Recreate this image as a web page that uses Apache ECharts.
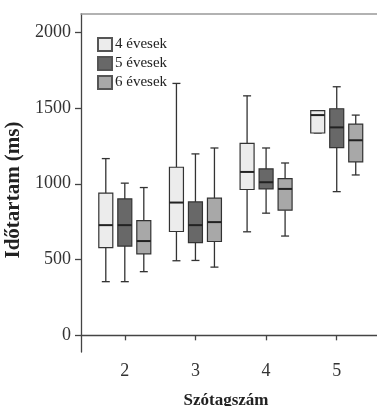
<!DOCTYPE html>
<html>
<head>
<meta charset="utf-8">
<script src="https://cdn.jsdelivr.net/npm/echarts@6/dist/echarts.min.js"></script>
<style>
  html, body { margin: 0; padding: 0; background: #fff; }
  #chart { width: 377px; height: 406px; }
</style>
</head>
<body>
<div id="chart"></div>
<script>
// syllable counts on the x axis
const categories = [2, 3, 4, 5];
const groupNames = ['4 évesek', '5 évesek', '6 évesek'];
const yTicks = [0, 500, 1000, 1500, 2000];

// [min, Q1, median, Q3, max] per syllable count
const age4 = [
  [354, 578, 727, 938, 1166],
  [492, 685, 876, 1109, 1662],
  [683, 962, 1078, 1267, 1580],
  [1335, 1335, 1453, 1482, 1482]
];
const age5 = [
  [354, 589, 727, 900, 1004],
  [494, 612, 727, 880, 1197],
  [806, 966, 1010, 1098, 1236],
  [948, 1238, 1372, 1495, 1640]
];
const age6 = [
  [420, 538, 622, 757, 975],
  [450, 619, 747, 905, 1236],
  [655, 826, 966, 1034, 1137],
  [1058, 1144, 1287, 1394, 1453]
];

const groups = [age4, age5, age6];
const fills = ['#ececec', '#686868', '#a8a8a8'];
const offsets = [-19, 0, 19];
const font = '"Liberation Serif", "DejaVu Serif", serif';

const chart = echarts.init(document.getElementById('chart'));

function makeRender(offset) {
  return (params, api) => {
    const x = api.value(0);
    const pt = (v) => {
      const p = api.coord([x, v]);
      return [p[0] + offset, p[1]];
    };
    const lo = pt(api.value(1));
    const q1 = pt(api.value(2));
    const med = pt(api.value(3));
    const q3 = pt(api.value(4));
    const hi = pt(api.value(5));
    const cx = lo[0];
    const half = 7;
    const cap = 4;
    const line = { stroke: '#333', lineWidth: 1.3 };
    return {
      type: 'group',
      children: [
        { type: 'line', shape: { x1: cx, y1: hi[1], x2: cx, y2: q3[1] }, style: line },
        { type: 'line', shape: { x1: cx - cap, y1: hi[1], x2: cx + cap, y2: hi[1] }, style: line },
        { type: 'line', shape: { x1: cx, y1: q1[1], x2: cx, y2: lo[1] }, style: line },
        { type: 'line', shape: { x1: cx - cap, y1: lo[1], x2: cx + cap, y2: lo[1] }, style: line },
        {
          type: 'rect',
          shape: { x: cx - half, y: q3[1], width: half * 2, height: q1[1] - q3[1] },
          style: { fill: api.visual('color'), stroke: '#333', lineWidth: 1.2 }
        },
        { type: 'line', shape: { x1: cx - half, y1: med[1], x2: cx + half, y2: med[1] }, style: { stroke: '#222', lineWidth: 2 } }
      ]
    };
  };
}

const series = groupNames.map((name, i) => ({
  name: name,
  type: 'custom',
  renderItem: makeRender(offsets[i]),
  itemStyle: { color: fills[i], borderColor: '#555', borderWidth: 1 },
  encode: { x: 0, y: [1, 2, 3, 4, 5] },
  data: categories.map((c, j) => [c].concat(groups[i][j])),
  z: 3
}));

chart.setOption({
  animation: false,
  grid: { left: 81, right: 0, top: 14, bottom: 54, outerBoundsMode: 'none', containLabel: false },
  legend: {
    data: groupNames,
    orient: 'vertical',
    left: 92,
    top: 32,
    icon: 'rect',
    itemWidth: 14,
    itemHeight: 13,
    itemGap: 4,
    textStyle: { fontFamily: font, fontSize: 15, color: '#222', padding: [0, 0, 0, -2] }
  },
  xAxis: [
    {
      type: 'value',
      min: 1.38,
      max: 5.57,
      name: 'Szótagszám',
      nameLocation: 'middle',
      nameGap: 40,
      nameTextStyle: { fontFamily: font, fontSize: 17, fontWeight: 'bold', color: '#222', padding: [0, 6, 0, 0] },
      axisLine: { lineStyle: { color: '#444', width: 1.3 } },
      axisTick: { customValues: categories, length: 5, lineStyle: { color: '#444', width: 1.3 } },
      axisLabel: { customValues: categories, margin: 10, fontFamily: font, fontSize: 18, color: '#333', formatter: (v) => String(v) },
      splitLine: { show: false }
    },
    {
      type: 'value',
      position: 'top',
      min: 1.38,
      max: 5.57,
      axisLine: { show: true, lineStyle: { color: '#999', width: 1.5 } },
      axisTick: { show: false },
      axisLabel: { show: false },
      splitLine: { show: false }
    }
  ],
  yAxis: {
    type: 'value',
    min: -110,
    max: 2120,
    name: 'Időtartam (ms)',
    nameLocation: 'middle',
    nameGap: 55,
    nameTextStyle: { fontFamily: font, fontSize: 21, fontWeight: 'bold', color: '#222', padding: [0, 14, 0, 0] },
    axisLine: { show: true, lineStyle: { color: '#444', width: 1.3 } },
    axisTick: { show: true, customValues: yTicks, length: 6, lineStyle: { color: '#444', width: 1.3 } },
    axisLabel: { customValues: yTicks, margin: 10, fontFamily: font, fontSize: 18, color: '#333', formatter: (v) => String(v) },
    splitLine: { show: false }
  },
  series: series
});
</script>
</body>
</html>
